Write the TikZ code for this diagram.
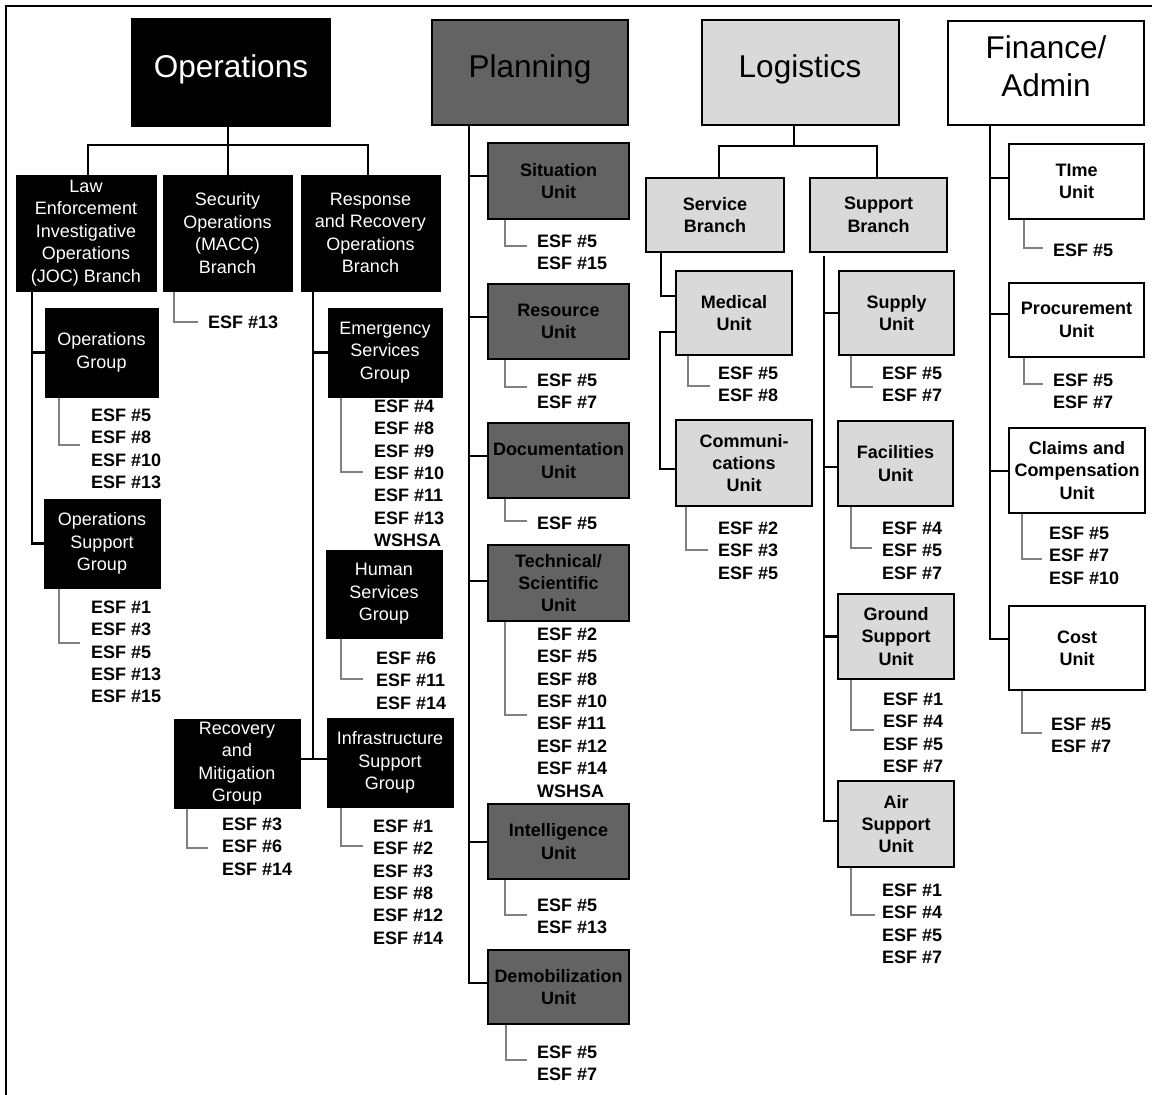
\documentclass[tikz,border=0pt]{standalone}
\usepackage{fontspec}
\setmainfont{Liberation Sans}

\definecolor{plfill}{RGB}{99,99,99}
\definecolor{lgfill}{RGB}{217,217,217}
\definecolor{esfgray}{RGB}{128,128,128}

\tikzset{
  % box given by its left, top, right and bottom edges
  corners/.style n args={4}{at={({(#1+#3)/2},{(#2+#4)/2})},
    minimum width={#3pt-#1pt}, minimum height={#4pt-#2pt}},
  conn/.style={draw=black, line width=2.2pt},
  esfline/.style={draw=esfgray, line width=2pt},
  esftext/.style={anchor=north west, inner sep=0pt, align=left,
    font=\fontsize{18}{22.4}\selectfont\bfseries},
  hdrbox/.style={draw=black, line width=2.5pt, inner sep=0pt},
  hdrtext/.style={inner sep=0pt, align=center, font=\fontsize{31.5}{38}\selectfont},
  opsbox/.style={draw=black, fill=black, text=white, line width=1pt, inner sep=0pt,
    align=center, font=\fontsize{18}{22.4}\selectfont},
  unitbox/.style={draw=black, line width=2pt, inner sep=0pt, align=center,
    font=\fontsize{18}{22.4}\selectfont\bfseries},
  plnbox/.style={unitbox, fill=plfill, text=black},
  logbox/.style={unitbox, fill=lgfill},
  finbox/.style={unitbox, fill=white},
}

% ESF list under a box: parent, name, drop x, bend y, end x, text x, first line y, entries
\newcommand\esfs[8]{%
  \node[esftext] (#2) at (#6,#7-6.5) {#8};
  \coordinate (#2-bend) at (#5,#4);
  \draw[esfline] (#1.south -| #3,0) |- (#2-bend);
}

\begin{document}
\begin{tikzpicture}[x=1pt,y=-1pt]
\useasboundingbox (0,0) rectangle (1152,1095);

% outer frame
\draw[line width=2.5pt] (6,1095) -- (6,6) -- (1152,6);

% ---------------- Operations ----------------
\node[hdrbox, fill=black, corners={132}{19}{330}{126}] (ops) {};
\node[hdrtext, text=white, text depth=0pt] (opst) at (231,66) {Operations};

\node[opsbox, corners={16}{175}{156}{291}] (law) {Law\\Enforcement\\Investigative\\Operations\\(JOC) Branch};
\node[opsbox, corners={163}{175}{292}{291}] (sec) {Security\\Operations\\(MACC)\\Branch};
\node[opsbox, corners={301}{175}{440}{291}] (resp) {Response\\and Recovery\\Operations\\Branch};

\coordinate (obar) at (228,145);
\draw[conn] (ops.south -| obar) -- (sec.north -| obar);
\draw[conn] (law.north -| 88,0) |- (obar) -| (resp.north -| 368,0);

\node[opsbox, corners={45}{308}{158}{397}] (opg) {Operations\\Group};
\node[opsbox, corners={44}{499}{160}{588}] (osg) {Operations\\Support\\Group};
\coordinate (lawx) at (32,0);
\draw[conn] (law.south -| lawx) |- (osg.west);
\draw[conn] (opg.west) -- (opg.west -| lawx);

\node[opsbox, corners={328}{308}{442}{397}] (emg) {Emergency\\Services\\Group};
\node[opsbox, corners={326}{550}{442}{638}] (hsg) {Human\\Services\\Group};
\node[opsbox, corners={174}{719}{300}{808}] (rmg) {Recovery\\and\\Mitigation\\Group};
\node[opsbox, corners={327}{718}{453}{807}] (isg) {Infrastructure\\Support\\Group};
\coordinate (rj) at (313,759);
\draw[conn] (resp.south -| rj) -- (rj);
\draw[conn] (rmg.east |- rj) -- (isg.west |- rj);
\draw[conn] (emg.west) -- (emg.west -| rj);

\esfs{opg}{eopg}{59}{445}{80}{91}{415}{ESF \#5\\ESF \#8\\ESF \#10\\ESF \#13}
\esfs{osg}{eosg}{59}{643}{80}{91}{607}{ESF \#1\\ESF \#3\\ESF \#5\\ESF \#13\\ESF \#15}
\esfs{sec}{esec}{174}{322}{198}{208}{322}{ESF \#13}
\esfs{emg}{eemg}{341}{472}{363}{374}{406}{ESF \#4\\ESF \#8\\ESF \#9\\ESF \#10\\ESF \#11\\ESF \#13\\WSHSA}
\esfs{hsg}{ehsg}{341}{679}{363}{376}{658}{ESF \#6\\ESF \#11\\ESF \#14}
\esfs{rmg}{ermg}{187}{848}{208}{222}{824}{ESF \#3\\ESF \#6\\ESF \#14}
\esfs{isg}{eisg}{341}{846}{363}{373}{826}{ESF \#1\\ESF \#2\\ESF \#3\\ESF \#8\\ESF \#12\\ESF \#14}

% ---------------- Planning ----------------
\node[hdrbox, fill=plfill, corners={432}{20}{628}{125}] (pln) {};
\node[hdrtext, text depth=0pt] (plnt) at (530,66) {Planning};

\node[plnbox, corners={488}{143}{629}{219}] (sit) {Situation\\Unit};
\node[plnbox, corners={488}{284}{629}{359}] (res) {Resource\\Unit};
\node[plnbox, corners={488}{423}{629}{498}] (doc) {Documentation\\Unit};
\node[plnbox, corners={488}{545}{629}{621}] (tec) {Technical/\\Scientific\\Unit};
\node[plnbox, corners={488}{804}{629}{879}] (int) {Intelligence\\Unit};
\node[plnbox, corners={488}{950}{629}{1024}] (dmb) {Demobilization\\Unit};

\coordinate (plx) at (469,0);
\draw[conn] (pln.south -| plx) |- (dmb.west |- 0,983);
\draw[conn] (sit.west |- 0,176) -- (plx |- 0,176);
\draw[conn] (res.west |- 0,317) -- (plx |- 0,317);
\draw[conn] (doc.west |- 0,456) -- (plx |- 0,456);
\draw[conn] (tec.west |- 0,581) -- (plx |- 0,581);
\draw[conn] (int.west |- 0,842) -- (plx |- 0,842);

\esfs{sit}{esit}{505}{246}{527}{537}{241}{ESF \#5\\ESF \#15}
\esfs{res}{eres}{505}{387}{527}{537}{380}{ESF \#5\\ESF \#7}
\esfs{doc}{edoc}{505}{521}{527}{537}{523}{ESF \#5}
\esfs{tec}{etec}{505}{715}{527}{537}{634}{ESF \#2\\ESF \#5\\ESF \#8\\ESF \#10\\ESF \#11\\ESF \#12\\ESF \#14\\WSHSA}
\esfs{int}{eint}{505}{915}{527}{537}{905}{ESF \#5\\ESF \#13}
\esfs{dmb}{edmb}{506}{1060}{527}{537}{1052}{ESF \#5\\ESF \#7}

% ---------------- Logistics ----------------
\node[hdrbox, fill=lgfill, corners={702}{20}{899}{125}] (log) {};
\node[hdrtext, text depth=0pt] (logt) at (800,66) {Logistics};

\node[logbox, corners={646}{178}{784}{252}] (svc) {Service\\Branch};
\node[logbox, corners={810}{178}{947}{252}] (spb) {Support\\Branch};
\coordinate (lbar) at (794,146);
\draw[conn] (log.south -| lbar) -- (lbar);
\draw[conn] (svc.north -| 719,0) |- (lbar) -| (spb.north -| 877,0);

\node[logbox, corners={676}{271}{792}{355}] (med) {Medical\\Unit};
\node[logbox, corners={676}{420}{812}{506}] (com) {Communi-\\cations\\Unit};
\node[logbox, corners={839}{271}{954}{355}] (sup) {Supply\\Unit};
\node[logbox, corners={838}{421}{953}{506}] (fac) {Facilities\\Unit};
\node[logbox, corners={838}{594}{954}{679}] (gsu) {Ground\\Support\\Unit};
\node[logbox, corners={838}{781}{954}{867}] (asu) {Air\\Support\\Unit};

\draw[conn] (svc.south -| 661,0) |- (med.west |- 0,296);
\coordinate (cj) at (660,469);
\draw[conn] (med.west |- 0,332) -| (cj) -- (com.west |- cj);

\coordinate (spx) at (824,0);
\draw[conn] ([yshift=-3pt]spb.south -| spx) |- (asu.west |- 0,821);
\draw[conn] (sup.west) -- (sup.west -| spx);
\draw[conn] (fac.west |- 0,467) -- (spx |- 0,467);
\draw[conn] (gsu.west) -- (gsu.west -| spx);

\esfs{med}{emed}{688}{386}{710}{718}{373}{ESF \#5\\ESF \#8}
\esfs{com}{ecom}{686}{550}{708}{718}{528}{ESF \#2\\ESF \#3\\ESF \#5}
\esfs{sup}{esup}{851}{387}{873}{882}{373}{ESF \#5\\ESF \#7}
\esfs{fac}{efac}{851}{548}{872}{882}{528}{ESF \#4\\ESF \#5\\ESF \#7}
\esfs{gsu}{egsu}{851}{730}{874}{883}{699}{ESF \#1\\ESF \#4\\ESF \#5\\ESF \#7}
\esfs{asu}{easu}{851}{915}{875}{882}{890}{ESF \#1\\ESF \#4\\ESF \#5\\ESF \#7}

% ---------------- Finance/Admin ----------------
\node[hdrbox, fill=white, corners={948}{21}{1144}{125}] (fin) {};
\node[hdrtext] (fint) at (1046,66) {Finance/\\Admin};

\node[finbox, corners={1009}{144}{1144}{219}] (tim) {TIme\\Unit};
\node[finbox, corners={1009}{283}{1144}{357}] (pro) {Procurement\\Unit};
\node[finbox, corners={1009}{428}{1145}{513}] (clm) {Claims and\\Compensation\\Unit};
\node[finbox, corners={1009}{606}{1145}{690}] (cst) {Cost\\Unit};

\coordinate (fx) at (990,0);
\draw[conn] (fin.south -| fx) |- (cst.west |- 0,639);
\draw[conn] (tim.west |- 0,178) -- (fx |- 0,178);
\draw[conn] (pro.west |- 0,314) -- (fx |- 0,314);
\draw[conn] (clm.west |- 0,471) -- (fx |- 0,471);

\esfs{tim}{etim}{1024}{248}{1043}{1053}{250}{ESF \#5}
\esfs{pro}{epro}{1024}{384}{1043}{1053}{380}{ESF \#5\\ESF \#7}
\esfs{clm}{eclm}{1022}{559}{1042}{1049}{533}{ESF \#5\\ESF \#7\\ESF \#10}
\esfs{cst}{ecst}{1022}{733}{1042}{1051}{724}{ESF \#5\\ESF \#7}

\end{tikzpicture}
\end{document}
